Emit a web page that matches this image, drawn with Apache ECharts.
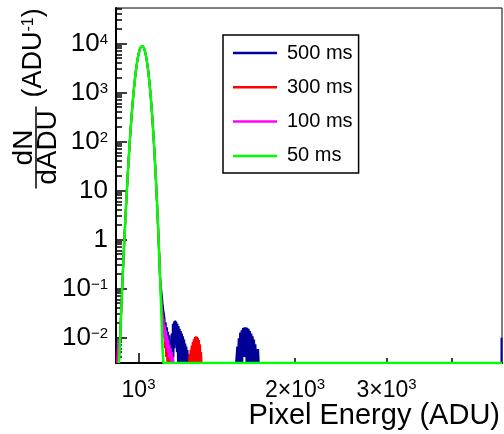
<!DOCTYPE html>
<html>
<head>
<meta charset="utf-8">
<script src="https://cdn.jsdelivr.net/npm/echarts@6/dist/echarts.min.js"></script>
<style>
html,body{margin:0;padding:0;background:#fff;}
#chart{width:504px;height:434px;}
</style>
</head>
<body>
<div id="chart"></div>
<script>
const FONT = '"Liberation Sans", Arial, Helvetica, sans-serif';

// ---- legend / series ----
const seriesNames = ['500 ms', '300 ms', '100 ms', '50 ms'];
const seriesColors = ['#000099', '#ff0000', '#ff00ff', '#00ff00'];
const seriesWidths = [2, 2, 2, 2.5];

// ---- axes ----
const xRange = [905, 5000];
const yRange = [0.003, 53000];
const xTickValues = [1000, 2000, 3000];
const xTickBase = ['10', '2×10', '3×10'];
const xTickExp = ['3', '3', '3'];
const xMajorTicks = [1000];
const xMinorTicks = [2000, 3000, 4000];
const yTickValues = [0.01, 0.1, 1, 10, 100, 1000, 10000];
const yTickBase = ['10', '10', '1', '10', '10', '10', '10'];
const yTickExp = ['−2', '−1', '', '', '2', '3', '4'];
const yMinorDecades = [-3, -2, -1, 0, 1, 2, 3, 4];
const yMinorMultipliers = [2, 3, 4, 5, 6, 7, 8, 9];

// ---- common peak (all exposures coincide here), ADU vs dN/dADU ----
const peakEnergy = [920, 924, 928, 932, 936, 940, 944, 948, 952, 956,
  960, 964, 968, 972, 976, 980, 984, 988, 992, 996,
  1000, 1004, 1008, 1012, 1016, 1020, 1024, 1028, 1032, 1036,
  1040, 1044, 1048, 1052, 1056, 1060, 1064, 1068, 1072, 1076,
  1080, 1084, 1088, 1092, 1096, 1100];
const peakDensity = [0.0060, 0.0191, 0.0581, 0.168, 0.462, 1.21, 3.02, 7.16, 16.2, 34.8,
  71.2, 139, 257, 454, 762, 1218, 1853, 2684, 3700, 4855,
  6062, 7206, 8154, 8780, 9000, 8780, 8154, 7206, 6062, 4855,
  3700, 2684, 1853, 1218, 762, 454, 257, 139, 71.2, 34.8,
  16.2, 7.16, 3.02, 1.21, 0.462, 0.168];

// ---- per-exposure low edge and high tail ----
const edgeEnergy500 = [916,
  1104, 1108, 1112, 1116, 1119, 1122, 1125, 1128, 1131, 1134, 1137, 1140, 1143, 1146, 1149, 1152, 1155,
  1158, 1161, 1164, 1167, 1170, 1173, 1176, 1179, 1182, 1185, 1188, 1191, 1194, 1197, 1200, 1203, 1206,
  1209, 1212, 1215, 1218, 1221, 1224, 1227, 1230, 1233, 1236, 1239, 1242, 1245, 1248, 1251, 1254, 1257,
  1540, 1548, 1553, 1558, 1563, 1568, 1573, 1578, 1583, 1588, 1593, 1598, 1603, 1608, 1613, 1618, 1623,
  1628, 1633, 1638, 1643, 1648, 1653, 1658, 1663, 1668, 1673, 1678, 1683, 1688, 1693, 1698, 1703,
  4988, 4990, 5000];
const edgeDensity500 = [0,
  0.11, 0.075, 0.05, 0.036, 0.03, 0.024, 0.008, 0.02, 0.006, 0.016, 0.004, 0.013, 0.003, 0.011, 0, 0.009, 0,
  0.012, 0, 0.019, 0.004, 0.021, 0.006, 0.022, 0.008, 0.021, 0.005, 0.019, 0.003, 0.017, 0, 0.015, 0, 0.0135,
  0, 0.012, 0, 0.0105, 0, 0.009, 0, 0.0075, 0, 0.0065, 0, 0.0055, 0, 0.0045, 0, 0.004, 0,
  0, 0.0065, 0, 0.0096, 0, 0.0125, 0.002, 0.014, 0.003, 0.0155, 0.004, 0.016, 0.004, 0.016, 0, 0.0158, 0,
  0.015, 0.003, 0.0135, 0, 0.012, 0, 0.0105, 0, 0.009, 0, 0.0072, 0, 0.0058, 0, 0.0058, 0,
  0, 0.0098, 0.0098];

const edgeEnergy300 = [909, 912, 915, 918,
  1104, 1108, 1112, 1115, 1118, 1121, 1124, 1127, 1130, 1133, 1136, 1139, 1142, 1145, 1148, 1151, 1154,
  1250, 1253, 1256, 1259, 1262, 1265, 1268, 1271, 1274, 1277, 1280, 1283, 1286, 1289, 1292, 1295, 1298,
  1301, 1304, 1307, 1310, 1313, 1316, 1319, 1322, 5000];
const edgeDensity300 = [0, 0.006, 0.004, 0.005,
  0.08, 0.045, 0.03, 0.02, 0.012, 0.016, 0.006, 0.010, 0.004, 0.008, 0, 0.006, 0, 0.005, 0, 0.004, 0,
  0, 0.0045, 0, 0.0056, 0, 0.0068, 0.001, 0.0080, 0.002, 0.0092, 0.003, 0.0102, 0.003, 0.0105, 0.002, 0.0103, 0,
  0.0098, 0, 0.0088, 0, 0.0072, 0, 0.0050, 0, 0];

const edgeEnergy100 = [911, 914, 917,
  1104, 1108, 1111, 1114, 1117, 1120, 1123, 1126, 1129, 1132, 1135, 1138, 1141, 1144, 1147, 1150, 1153,
  1156, 1159, 1162, 1165, 1168, 5000];
const edgeDensity100 = [0, 0.009, 0.004,
  0.07, 0.04, 0.03, 0.012, 0.024, 0.01, 0.018, 0.008, 0.014, 0.006, 0.011, 0.005, 0.009, 0.004, 0.007, 0.0035, 0.006,
  0, 0.005, 0, 0.004, 0, 0];

const edgeEnergy50 = [917, 1104, 1108, 1112, 1116, 5000];
const edgeDensity50 = [0, 0.0581, 0.0191, 0.006, 0, 0];

const edgeEnergies = [edgeEnergy500, edgeEnergy300, edgeEnergy100, edgeEnergy50];
const edgeDensities = [edgeDensity500, edgeDensity300, edgeDensity100, edgeDensity50];

// ---- build ----
const L = v => Math.log10(v);
const xMin = L(xRange[0]), xMax = L(xRange[1]);
const yMin = L(yRange[0]), yMax = L(yRange[1]);
function toPoint(e, d) { return [L(e), d > yRange[0] ? L(d) : yMin]; }
function nearestIndex(vals, v) {
  let best = 0;
  for (let i = 1; i < vals.length; i++) {
    if (Math.abs(L(vals[i]) - v) < Math.abs(L(vals[best]) - v)) best = i;
  }
  return best;
}
const yMinorTicks = [];
yMinorDecades.forEach(k => yMinorMultipliers.forEach(m => {
  const v = k + L(m);
  if (v > yMin + 1e-6 && v < yMax - 1e-6) yMinorTicks.push(v);
}));

const series = seriesNames.map((name, i) => {
  const pts = [];
  peakEnergy.forEach((e, j) => pts.push([e, peakDensity[j]]));
  edgeEnergies[i].forEach((e, j) => pts.push([e, edgeDensities[i][j]]));
  pts.sort((a, b) => a[0] - b[0]);
  return {
    type: 'line', name: name, xAxisIndex: 0, yAxisIndex: 0,
    data: pts.map(p => toPoint(p[0], p[1])),
    symbol: 'none', showSymbol: false, smooth: false,
    lineStyle: { color: seriesColors[i], width: seriesWidths[i] },
    itemStyle: { color: seriesColors[i] },
    clip: true, animation: false, silent: true
  };
});

const tickStyle = { color: '#000', width: 1.5 };
const option = {
  animation: false,
  grid: { left: 116, right: 2, top: 8, bottom: 71, show: true, borderColor: '#000', borderWidth: 1,
          backgroundColor: 'transparent', containLabel: false, outerBoundsMode: 'none' },
  xAxis: [
    { type: 'value', min: xMin, max: xMax, position: 'bottom',
      axisLine: { show: true, onZero: false, lineStyle: { color: '#000', width: 2 } },
      axisTick: { show: true, inside: true, length: 10, lineStyle: tickStyle, customValues: xMajorTicks.map(L) },
      axisLabel: { show: true, customValues: xTickValues.map(L), margin: 14,
        formatter: v => { const i = nearestIndex(xTickValues, v);
          return '{b|' + xTickBase[i] + '}' + (xTickExp[i] ? '{s|' + xTickExp[i] + '}' : ''); },
        rich: { b: { fontSize: 23, fontFamily: FONT, color: '#000', lineHeight: 27 },
                s: { fontSize: 15, fontFamily: FONT, color: '#000', lineHeight: 15, padding: [0, 0, 12, 0] } } },
      splitLine: { show: false } },
    { type: 'value', min: xMin, max: xMax, position: 'bottom',
      axisLine: { show: false, onZero: false },
      axisTick: { show: true, inside: true, length: 5, lineStyle: tickStyle, customValues: xMinorTicks.map(L) },
      axisLabel: { show: false }, splitLine: { show: false } }
  ],
  yAxis: [
    { type: 'value', min: yMin, max: yMax, position: 'left',
      axisLine: { show: true, onZero: false, lineStyle: { color: '#000', width: 2 } },
      axisTick: { show: true, inside: true, length: 11, lineStyle: tickStyle, customValues: yTickValues.map(L) },
      axisLabel: { show: true, customValues: yTickValues.map(L), margin: 8,
        formatter: v => { const i = nearestIndex(yTickValues, v);
          return '{b|' + yTickBase[i] + '}' + (yTickExp[i] ? '{s|' + yTickExp[i] + '}' : ''); },
        rich: { b: { fontSize: 26, fontFamily: FONT, color: '#000', lineHeight: 30 },
                s: { fontSize: 15, fontFamily: FONT, color: '#000', lineHeight: 15, padding: [0, 0, 8, 0] } } },
      splitLine: { show: false } },
    { type: 'value', min: yMin, max: yMax, position: 'left',
      axisLine: { show: false, onZero: false },
      axisTick: { show: true, inside: true, length: 6, lineStyle: tickStyle, customValues: yMinorTicks },
      axisLabel: { show: false }, splitLine: { show: false } }
  ],
  legend: {
    data: seriesNames.map(n => ({ name: n, icon: 'rect' })), orient: 'vertical', left: 223, top: 35,
    itemWidth: 44, itemHeight: 2.5, itemGap: 14.3, padding: [8, 6, 7, 10],
    backgroundColor: '#fff', borderColor: '#000', borderWidth: 1.5, borderRadius: 0,
    selectedMode: false,
    textStyle: { fontFamily: FONT, fontSize: 20, color: '#000', lineHeight: 20, padding: [0, 0, 0, 5] }
  },
  graphic: [
    { type: 'group', x: 36, y: 147.5, rotation: Math.PI / 2, silent: true,
      children: [
        { type: 'line', shape: { x1: -41, y1: 0, x2: 41, y2: 0 }, style: { stroke: '#000', lineWidth: 1.5 } },
        { type: 'text', x: 0, y: -12, style: { text: 'dN', fontSize: 28, fontFamily: FONT, fill: '#000', align: 'center', verticalAlign: 'middle' } },
        { type: 'text', x: 0, y: 12, style: { text: 'dADU', fontSize: 28, fontFamily: FONT, fill: '#000', align: 'center', verticalAlign: 'middle' } },
        { type: 'text', x: 50, y: -2, style: { text: '{a|(ADU}{s|-1}{a|)}', align: 'left', verticalAlign: 'middle', fill: '#000',
            rich: { a: { fontSize: 27, fontFamily: FONT, color: '#000', lineHeight: 30 },
                    s: { fontSize: 16, fontFamily: FONT, color: '#000', lineHeight: 16, padding: [0, 0, 10, 0] } } } }
      ] },
    { type: 'text', x: 500, y: 416, silent: true,
      style: { text: 'Pixel Energy (ADU)', fontSize: 29, fontFamily: FONT, fill: '#000', align: 'right', verticalAlign: 'middle' } }
  ],
  series: series
};

const chart = echarts.init(document.getElementById('chart'), null, { renderer: 'canvas' });
chart.setOption(option);
</script>
</body>
</html>
